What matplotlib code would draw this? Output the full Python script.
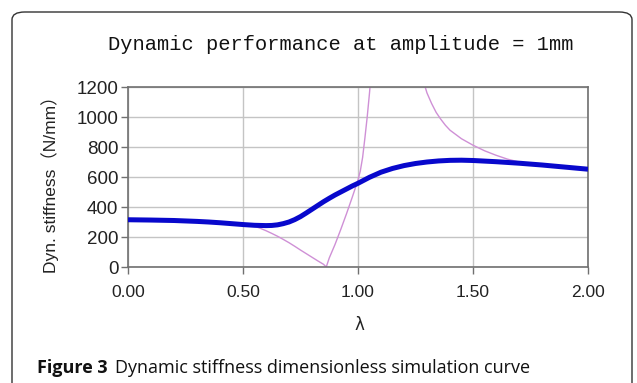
import matplotlib
matplotlib.use("Agg")
import matplotlib.pyplot as plt
from matplotlib.patches import FancyBboxPatch
import numpy as np

# Data
lam_blue = [0.00, 0.10, 0.20, 0.30, 0.35, 0.40, 0.45, 0.50, 0.55, 0.60, 0.625,
            0.65, 0.675, 0.70, 0.725, 0.75, 0.775, 0.80, 0.825, 0.85, 0.875,
            0.90, 0.925, 0.95, 0.975, 1.00, 1.05, 1.10, 1.15, 1.20, 1.25,
            1.30, 1.35, 1.40, 1.45, 1.50, 1.55, 1.60, 1.70, 1.80, 1.90, 2.00]
stiff_blue = [315, 313, 310, 304, 300, 295, 289, 283, 278, 276, 277,
              281, 289, 300, 316, 336, 360, 385, 410, 435, 458,
              480, 500, 520, 540, 558, 598, 632, 657, 676, 690,
              700, 707, 711, 712, 710, 706, 702, 692, 680, 666, 652]

lam_pink = [0.00, 0.10, 0.20, 0.30, 0.35, 0.40, 0.45, 0.50, 0.525, 0.55,
            0.575, 0.60, 0.625, 0.65, 0.675, 0.70, 0.725, 0.75, 0.775, 0.80,
            0.825, 0.85, 0.862, 0.875, 0.90, 0.925, 0.95, 0.975, 1.00, 1.01,
            1.02, 1.03, 1.04, 1.05, 1.06, 1.07,
            1.27, 1.28, 1.30, 1.32, 1.34, 1.36, 1.38, 1.40, 1.45, 1.50, 1.55,
            1.60, 1.65, 1.70, 1.75, 1.80, 1.90, 2.00]
stiff_pink = [315, 313, 310, 304, 300, 295, 289, 283, 279, 272,
              258, 242, 224, 205, 184, 162, 138, 113, 89, 65,
              41, 18, 0, 60, 150, 250, 355, 465, 580, 640,
              730, 860, 1000, 1160, 1340, np.nan,
              np.nan, 1260, 1160, 1090, 1030, 985, 945, 912, 855, 812, 775,
              745, 719, 700, 690, 681, 667, 652]

xticks = [0.0, 0.5, 1.0, 1.5, 2.0]
xtick_labels = ["0.00", "0.50", "1.00", "1.50", "2.00"]
yticks = [0, 200, 400, 600, 800, 1000, 1200]

title = "Dynamic performance at amplitude = 1mm"
ylabel = "Dyn. stiffness\uff08N/mm\uff09"
xlabel = "\u03bb"

W, H = 637, 383
fig = plt.figure(figsize=(W / 100, H / 100), dpi=100)
fig.patch.set_facecolor("white")

# outer rounded frame
frame = FancyBboxPatch((12 / W, -20 / H), 620 / W, (H - 12 + 20) / H,
                       boxstyle="round,pad=0,rounding_size=0.02",
                       transform=fig.transFigure, facecolor="none",
                       edgecolor="#333333", linewidth=1.0, clip_on=False)
fig.patches.append(frame)

ax = fig.add_axes([128 / W, 1 - 267 / H, (588 - 128) / W, (267 - 87) / H])
ax.plot(lam_pink, stiff_pink, color="#cf90d6", linewidth=1.0, zorder=2)
ax.plot(lam_blue, stiff_blue, color="#0808cc", linewidth=3.6, zorder=3,
        solid_capstyle="butt", solid_joinstyle="round")

ax.set_xlim(0, 2)
ax.set_ylim(0, 1200)
ax.set_xticks(xticks)
ax.set_xticklabels(xtick_labels)
ax.set_yticks(yticks)
ax.grid(True, color="#c4c4c4", linewidth=1.0)
ax.set_axisbelow(True)
for s in ax.spines.values():
    s.set_color("#707070")
    s.set_linewidth(1.2)
ax.tick_params(axis="both", direction="out", length=5, width=1.0,
               color="#707070", labelcolor="#222222")
for lab in ax.get_xticklabels():
    lab.set_fontfamily("Liberation Sans")
    lab.set_fontsize(12.5)
for lab in ax.get_yticklabels():
    lab.set_fontfamily("Liberation Sans")
    lab.set_fontsize(13.5)
ax.tick_params(axis="x", pad=8)
ax.tick_params(axis="y", pad=2)

fig.text(341 / W, 1 - 45 / H, title, ha="center", va="center",
         family="Liberation Mono", fontsize=14.7, color="#111111")
fig.text(50 / W, 1 - 180 / H, ylabel, ha="center", va="center",
         rotation=90, family=["Liberation Sans", "Noto Sans CJK SC"],
         fontsize=12.5, color="#222222")
fig.text(359 / W, 1 - 325 / H, xlabel, ha="center", va="center",
         family="DejaVu Sans", fontsize=12, color="#222222")

fig.text(37 / W, 1 - 368 / H, "Figure 3", ha="left", va="center",
         family="Open Sans", fontweight="bold", fontsize=13, color="#111111")
fig.text(115 / W, 1 - 368 / H, "Dynamic stiffness dimensionless simulation curve",
         ha="left", va="center", family="Open Sans", fontsize=13,
         color="#111111")

fig.savefig("out.png", dpi=100, facecolor="white")
